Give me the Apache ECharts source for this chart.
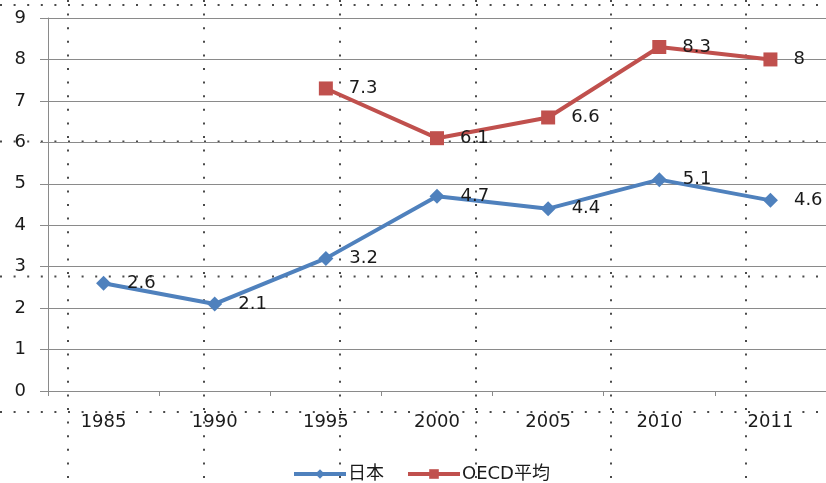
<!DOCTYPE html>
<html>
<head>
<meta charset="utf-8">
<script src="https://cdn.jsdelivr.net/npm/echarts@6/dist/echarts.min.js"></script>
<style>
  html, body { margin: 0; padding: 0; background: #fff; }
  #chart { width: 826px; height: 483px; }
</style>
</head>
<body>
<div id="chart"></div>
<script>
// Unemployment rate (%) — Japan vs OECD average
const years = ['1985', '1990', '1995', '2000', '2005', '2010', '2011'];
const japan = [2.6, 2.1, 3.2, 4.7, 4.4, 5.1, 4.6];
const oecd = [null, null, 7.3, 6.1, 6.6, 8.3, 8.0];
const yTicks = { min: 0, max: 9, step: 1 };

const FONT = '"DejaVu Sans", "Noto Sans CJK JP", sans-serif';
const TEXT = '#1a1a1a';
const GRID = '#8a8a8a';

// Dotted cell borders of the worksheet underneath the chart
const cellCols = [68, 204, 340, 476, 611, 746];
const cellRows = [5, 141.5, 276.5, 412];
const dotted = { stroke: '#4a4a4a', lineWidth: 2, lineDash: [2, 11.6] };
const sheetLines = [];
cellCols.forEach(x => sheetLines.push({
  type: 'line', silent: true, z: -10,
  shape: { x1: x, y1: 0, x2: x, y2: 483 }, style: dotted
}));
cellRows.forEach(y => sheetLines.push({
  type: 'line', silent: true, z: -10,
  shape: { x1: 0, y1: y, x2: 826, y2: y }, style: dotted
}));

const labelStyle = {
  show: true, position: 'right', distance: 16,
  fontSize: 18, color: TEXT, fontFamily: FONT
};

const chart = echarts.init(document.getElementById('chart'), null, { renderer: 'canvas' });
chart.setOption({
  animation: false,
  backgroundColor: '#fff',
  textStyle: { fontFamily: FONT },
  graphic: sheetLines,
  grid: { left: 48, right: 0, top: 18, bottom: 92, containLabel: false },
  legend: {
    left: 287, top: 460,
    itemWidth: 52, itemHeight: 12, itemGap: 22,
    lineStyle: { width: 4 },
    textStyle: { fontSize: 18, color: TEXT, fontFamily: FONT, padding: [0, 0, 0, -3] },
    data: ['日本', 'OECD平均']
  },
  xAxis: {
    type: 'category',
    data: years,
    boundaryGap: true,
    axisLine: { lineStyle: { color: GRID, width: 1 } },
    axisTick: { show: true, length: 5, lineStyle: { color: GRID } },
    axisLabel: { fontSize: 18, color: TEXT, margin: 22, fontFamily: FONT },
    splitLine: { show: false }
  },
  yAxis: {
    type: 'value',
    min: yTicks.min, max: yTicks.max, interval: yTicks.step,
    axisLine: { show: true, lineStyle: { color: GRID, width: 1 } },
    axisTick: { show: true, length: 8, lineStyle: { color: GRID } },
    axisLabel: { fontSize: 18, color: TEXT, margin: 22, fontFamily: FONT },
    splitLine: { show: true, lineStyle: { color: GRID, width: 1 } }
  },
  series: [
    {
      name: '日本',
      type: 'line',
      data: japan,
      symbol: 'diamond',
      symbolSize: 15,
      color: '#4F81BD',
      lineStyle: { width: 4, color: '#4F81BD' },
      itemStyle: { color: '#4F81BD' },
      label: labelStyle,
      z: 3
    },
    {
      name: 'OECD平均',
      type: 'line',
      data: oecd,
      symbol: 'rect',
      symbolSize: 14,
      color: '#C0504D',
      lineStyle: { width: 4, color: '#C0504D' },
      itemStyle: { color: '#C0504D' },
      label: labelStyle,
      z: 3
    }
  ]
});
</script>
</body>
</html>
